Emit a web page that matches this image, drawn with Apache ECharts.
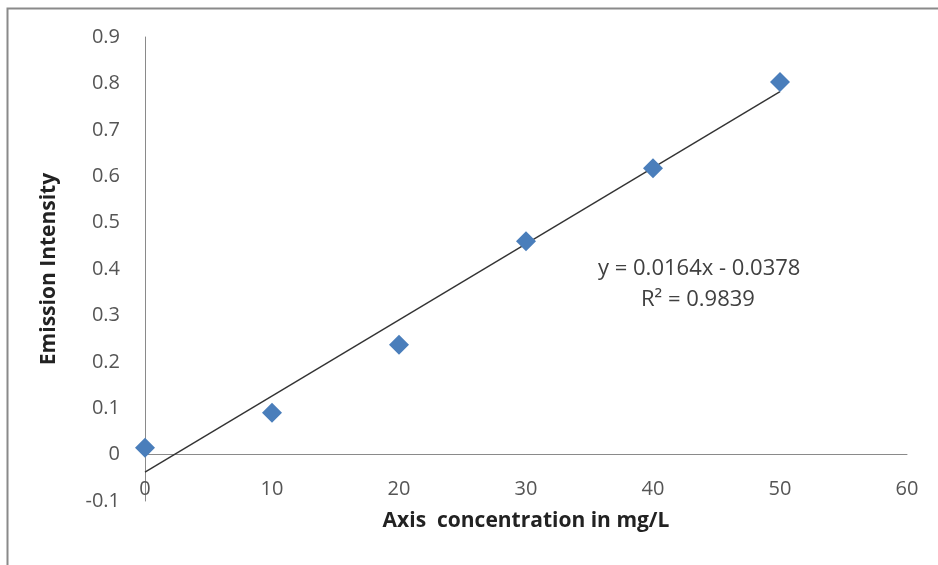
<!DOCTYPE html>
<html>
<head>
<meta charset="utf-8">
<script src="https://cdn.jsdelivr.net/npm/echarts@6/dist/echarts.min.js"></script>
<style>
  html, body { margin: 0; padding: 0; background: #fff; }
  #container { width: 938px; height: 565px; }
</style>
</head>
<body>
<div id="container"></div>
<script>
// measured points
const concentration = [0, 10, 20, 30, 40, 50];
const intensity = [0.015, 0.09, 0.237, 0.46, 0.617, 0.803];

// trendline as printed on the chart
const slope = 0.0164;
const intercept = -0.0378;
const trendX = [0, 50];
const equationText = "y = 0.0164x - 0.0378";
const r2Text = "R\u00b2 = 0.9839";

const dom = document.getElementById("container");
const myChart = echarts.init(dom, null, { renderer: "canvas" });

const fontFamily = "'Open Sans', 'Liberation Sans', sans-serif";

const option = {
  animation: false,
  backgroundColor: "#fff",
  grid: { left: 145, right: 31, top: 37, bottom: 64, outerBoundsMode: "none", containLabel: false },
  xAxis: {
    type: "value",
    min: 0,
    max: 60,
    interval: 10,
    name: "Axis  concentration in mg/L",
    nameLocation: "middle",
    nameGap: 10,
    nameTextStyle: { fontFamily, fontSize: 21, fontWeight: "bold", color: "#222" },
    axisLine: { onZero: true, lineStyle: { color: "#8a8a8a", width: 1 } },
    axisTick: { show: false },
    // labels sit between the zero line and the bottom of the plot, like the original
    axisLabel: { margin: -22, fontFamily, fontSize: 20, color: "#555" },
    splitLine: { show: false },
  },
  yAxis: {
    type: "value",
    min: -0.1,
    max: 0.9,
    interval: 0.1,
    name: "Emission Intensity",
    nameLocation: "middle",
    nameGap: 85,
    nameTextStyle: { fontFamily, fontSize: 21, fontWeight: "bold", color: "#222" },
    axisLine: { show: true, onZero: false, lineStyle: { color: "#8a8a8a", width: 1 } },
    axisTick: { show: false },
    axisLabel: {
      margin: 25,
      fontFamily,
      fontSize: 20,
      color: "#555",
      formatter: (v) => {
        const r = Math.round(v * 10) / 10;
        return r === 0 ? "0" : r.toFixed(1);
      },
    },
    splitLine: { show: false },
  },
  series: [
    {
      type: "line",
      data: trendX.map((x) => [x, slope * x + intercept]),
      symbol: "none",
      lineStyle: { color: "#333", width: 1.4 },
      z: 2,
    },
    {
      type: "scatter",
      data: concentration.map((x, i) => [x, intensity[i]]),
      symbol: "diamond",
      symbolSize: [20, 20],
      itemStyle: { color: "#4a7ebb", opacity: 1 },
      z: 3,
    },
  ],
  graphic: [
    {
      type: "rect",
      shape: { x: 7.5, y: 8.5, width: 940, height: 570 },
      style: { fill: null, stroke: "#8a8a8a", lineWidth: 2 },
      silent: true,
    },
    {
      type: "text",
      left: 598,
      top: 258,
      style: { text: equationText, fontFamily, fontSize: 22, fill: "#404040" },
    },
    {
      type: "text",
      left: 641,
      top: 289,
      style: { text: r2Text, fontFamily, fontSize: 22, fill: "#404040" },
    },
  ],
};

myChart.setOption(option);
window.addEventListener("resize", myChart.resize);
</script>
</body>
</html>
